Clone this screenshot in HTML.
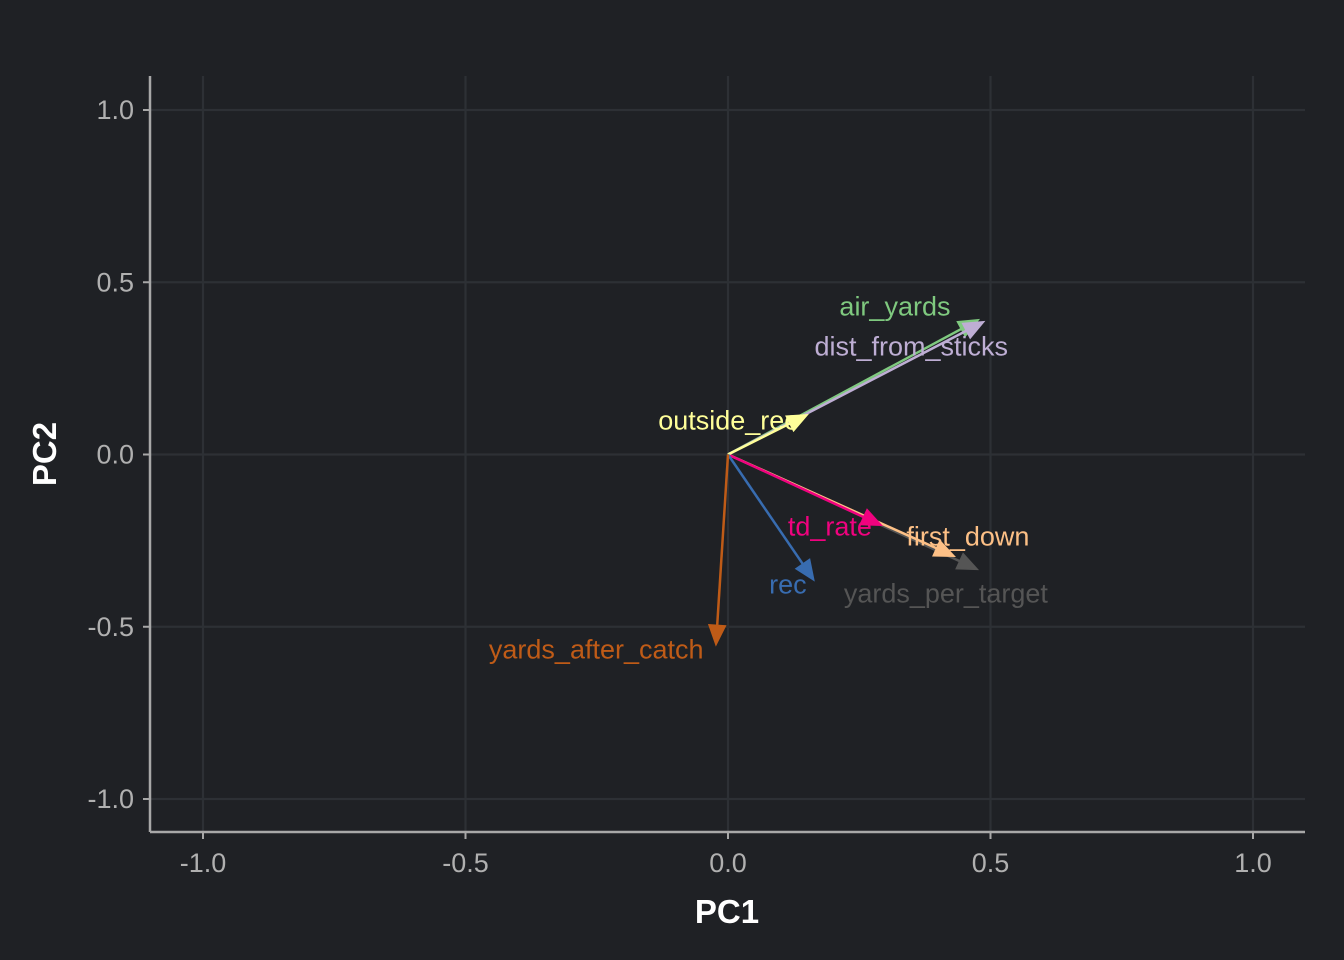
<!DOCTYPE html>
<html><head><meta charset="utf-8"><style>
html,body{margin:0;padding:0;background:#1f2125;}
svg{display:block;font-family:"Liberation Sans",Arial,sans-serif;}
</style></head><body>
<svg id="chart" width="1344" height="960" viewBox="0 0 1344 960" xmlns="http://www.w3.org/2000/svg">
<rect x="0" y="0" width="1344" height="960" fill="#1f2125"/>
<g id="grid"></g><g id="axes"></g><g id="arrows"></g><g id="labels"></g>
</svg>
<script>
const varNames = ["yards_per_target","first_down","td_rate","air_yards","dist_from_sticks","outside_rec","rec","yards_after_catch"];
const pc1 = [0.476,0.432,0.293,0.478,0.488,0.152,0.164,-0.023];
const pc2 = [-0.334,-0.296,-0.206,0.392,0.386,0.116,-0.366,-0.554];
const labelX = [0.415,0.457,0.194,0.318,0.349,0.0,0.114,-0.251];
const labelY = [-0.403,-0.238,-0.209,0.43,0.313,0.099,-0.377,-0.566];
const colors = ["#555555","#fdc086","#f0027f","#7fc97f","#beaed4","#ffff99","#386cb0","#bf5b17"];
const xTicks = [-1.0,-0.5,0.0,0.5,1.0];
const yTicks = [-1.0,-0.5,0.0,0.5,1.0];
const xTickLabels = ["-1.0","-0.5","0.0","0.5","1.0"];
const yTickLabels = ["-1.0","-0.5","0.0","0.5","1.0"];

const NS="http://www.w3.org/2000/svg";
const X = v => 728 + v*525;
const Y = v => 454.5 - v*344.5;
const L = {left:150,right:1305,top:76,bottom:832};
function mk(tag, attrs, parent){const e=document.createElementNS(NS,tag);for(const k in attrs)e.setAttribute(k,attrs[k]);parent.appendChild(e);return e;}
const grid=document.getElementById('grid'), axes=document.getElementById('axes'), arrows=document.getElementById('arrows'), labels=document.getElementById('labels');

xTicks.forEach((t,i)=>{
  const g=mk('line',{x1:X(t),x2:X(t),y1:L.top,y2:L.bottom,stroke:'#2d3035','stroke-width':2.2},grid);
  
  
  const tk=mk('line',{x1:X(t),x2:X(t),y1:L.bottom,y2:L.bottom+7,stroke:'#a8a8a8','stroke-width':2},axes);
  
  
  const tx=mk('text',{x:X(t),y:872,'text-anchor':'middle','font-size':27,fill:'#b0b0b0'},axes);
  tx.textContent=xTickLabels[i];
  
  
});
yTicks.forEach((t,i)=>{
  const g=mk('line',{x1:L.left,x2:L.right,y1:Y(t),y2:Y(t),stroke:'#2d3035','stroke-width':2.2},grid);
  
  
  const tk=mk('line',{x1:L.left-7,x2:L.left,y1:Y(t),y2:Y(t),stroke:'#a8a8a8','stroke-width':2},axes);
  
  
  const tx=mk('text',{x:134,y:Y(t)+9,'text-anchor':'end','font-size':27,fill:'#b0b0b0'},axes);
  tx.textContent=yTickLabels[i];
  
  
});
const xa=mk('line',{x1:L.left,x2:L.right,y1:L.bottom,y2:L.bottom,stroke:'#a8a8a8','stroke-width':2.5},axes);


const ya=mk('line',{x1:L.left,x2:L.left,y1:L.top,y2:L.bottom,stroke:'#a8a8a8','stroke-width':2.5},axes);


const xt=mk('text',{x:727,y:923,'text-anchor':'middle','font-size':33,'font-weight':'bold',fill:'#ffffff'},axes);
xt.textContent='PC1';


const yt=mk('text',{x:0,y:0,'text-anchor':'middle','font-size':33,'font-weight':'bold',fill:'#ffffff',transform:'translate(56,454) rotate(-90)'},axes);
yt.textContent='PC2';



varNames.forEach((n,i)=>{
  const x0=X(0),y0=Y(0),x1=X(pc1[i]),y1=Y(pc2[i]);
  const ang=Math.atan2(y1-y0,x1-x0), len=22, w=0.4;
  const ln=mk('line',{x1:x0,y1:y0,x2:x1-Math.cos(ang)*10,y2:y1-Math.sin(ang)*10,stroke:colors[i],'stroke-width':2.5},arrows);
  
  
  const p1=[x1-len*Math.cos(ang-w),y1-len*Math.sin(ang-w)], p2=[x1-len*Math.cos(ang+w),y1-len*Math.sin(ang+w)];
  const hd=mk('polygon',{points:`${x1},${y1} ${p1[0]},${p1[1]} ${p2[0]},${p2[1]}`,fill:colors[i],stroke:colors[i],'stroke-width':1},arrows);
  
  
});
varNames.forEach((n,i)=>{
  const t=mk('text',{x:X(labelX[i]),y:Y(labelY[i])+9,'text-anchor':'middle','font-size':27,fill:colors[i]},labels);
  t.textContent=n;
  
  
});
</script>
</body></html>
